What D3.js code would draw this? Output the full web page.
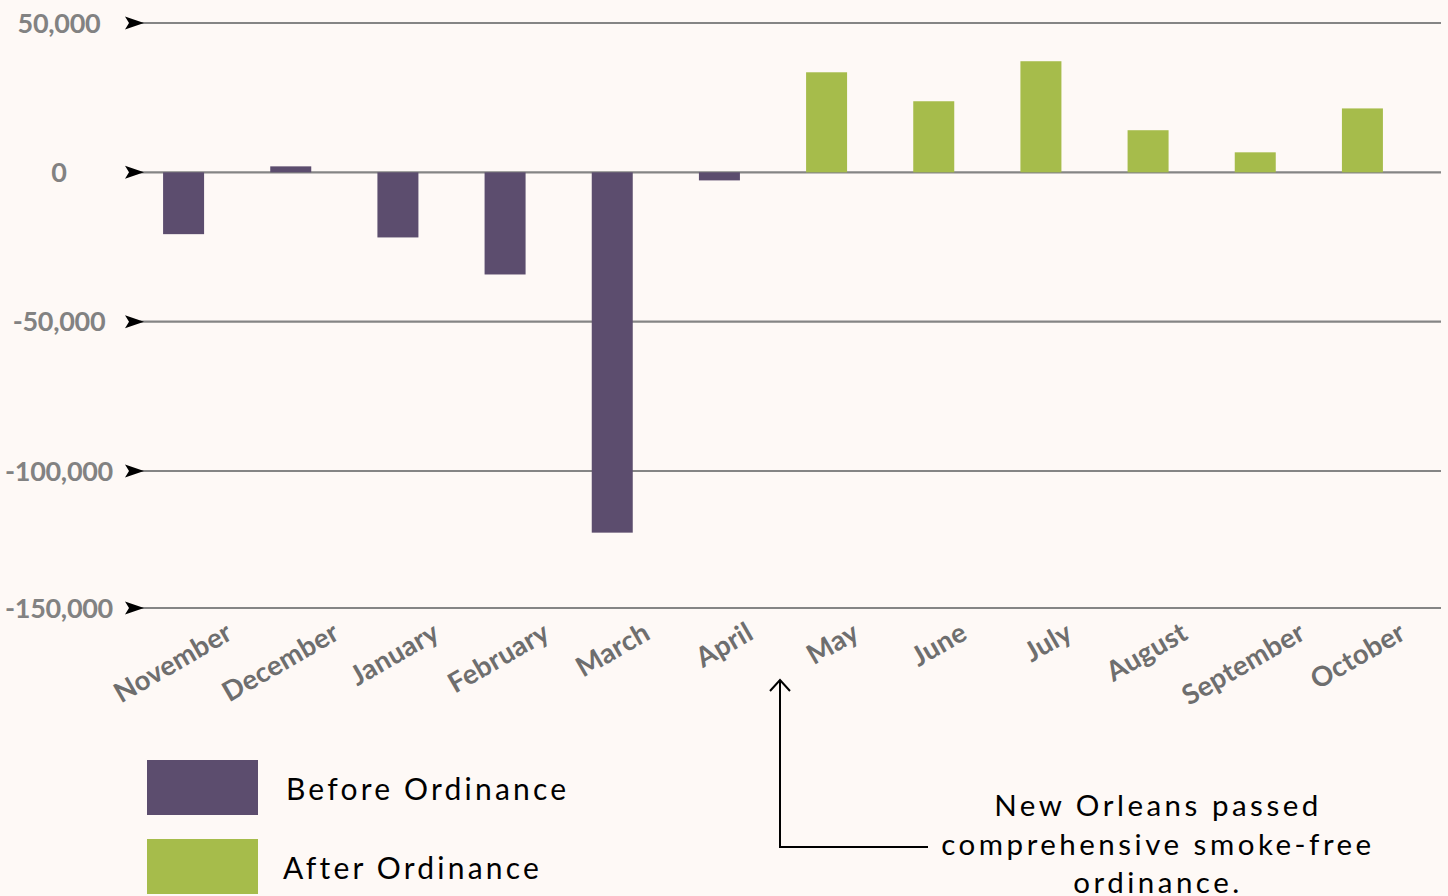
<!DOCTYPE html>
<html><head><meta charset="utf-8">
<script src="https://cdn.jsdelivr.net/npm/d3@7"></script>
<style>
html,body{margin:0;padding:0;background:#fef9f6;}
svg{display:block;}
</style></head>
<body>
<script>
const months = ["November","December","January","February","March","April","May","June","July","August","September","October"];
const values = [-20700, 2000, -21800, -34200, -122500, -2700, 33500, 23800, 37200, 14100, 6700, 21400];
const phase = ["Before","Before","Before","Before","Before","Before","After","After","After","After","After","After"];
const yTicks = [50000, 0, -50000, -100000, -150000];
const legendLabels = ["Before Ordinance","After Ordinance"];
const noteLines = ["New Orleans passed","comprehensive smoke-free","ordinance."];

const W = 1448, H = 896;
const colors = {Before:"#5c4d6e", After:"#a6bc4b"};
const fmt = d3.formatLocale({decimal:".",thousands:",",grouping:[3],currency:["$",""],minus:"-"}).format(",");
const svg = d3.select("body").append("svg").attr("width",W).attr("height",H);
svg.append("rect").attr("width",W).attr("height",H).attr("fill","#fef9f6");

const x = d3.scaleBand().domain(months).range([130,1416]);
const y = d3.scaleLinear().domain([-150000,-100000,50000]).range([608,471,23]);
const barW = 41;

// gridlines
const g = svg.append("g");
yTicks.forEach(t=>{
  g.append("line").attr("x1",140).attr("x2",1441).attr("y1",y(t)).attr("y2",y(t))
   .attr("stroke","#858585").attr("stroke-width",2.2);
  const yy=y(t);
  g.append("path").attr("d",`M125,${yy-6.5} L144,${yy} L125,${yy+6.5} L129,${yy} Z`).attr("fill","#000");
  g.append("text").attr("x",59).attr("y",yy+9.5).attr("text-anchor","middle")
   .attr("font-family","Lato").attr("font-weight",700).attr("font-size",27)
   .attr("fill","#828282").attr("letter-spacing",-0.3).text(fmt(t));
});

// bars
svg.append("g").selectAll("rect").data(months).join("rect")
  .attr("x",(d)=>x(d)+x.bandwidth()/2-barW/2)
  .attr("width",barW)
  .attr("y",(d,i)=>y(Math.max(0,values[i])))
  .attr("height",(d,i)=>Math.abs(y(values[i])-y(0)))
  .attr("fill",(d,i)=>colors[phase[i]]);

// x labels: rotated, top of rotated box aligned under the axis
const ang = 30, rad = ang*Math.PI/180, fh = 20;
svg.append("g").selectAll("text").data(months).join("text")
  .attr("text-anchor","middle")
  .attr("dy","0.35em")
  .attr("font-family","Lato").attr("font-weight",700).attr("font-size",27.5)
  .attr("letter-spacing",0.3)
  .attr("fill","#6e6e6e").text(d=>d)
  .each(function(d){
    const L = this.getComputedTextLength();
    const hh = (L*Math.sin(rad) + fh*Math.cos(rad))/2;
    const dx = 18 - 0.22*L;
    d3.select(this).attr("transform",`translate(${x(d)+x.bandwidth()/2+dx},${621+hh}) rotate(${-ang})`);
  });

// legend
legendLabels.forEach((l,i)=>{
  const ly = 760 + i*79;
  svg.append("rect").attr("x",147).attr("y",ly).attr("width",111).attr("height",55).attr("fill",colors[phase[i===0?0:6]]);
  svg.append("text").attr("x",i===0?286:283).attr("y",ly+40).attr("font-family","Lato").attr("font-size",30)
    .attr("letter-spacing",3.2).attr("fill","#000").text(l);
});

// annotation arrow
svg.append("path").attr("d","M928,847 L780,847 L780,680").attr("fill","none").attr("stroke","#000").attr("stroke-width",2);
svg.append("path").attr("d","M770,691 L780,680 L790,691").attr("fill","none").attr("stroke","#000").attr("stroke-width",2);
noteLines.forEach((t,i)=>{
  svg.append("text").attr("x",1158).attr("y",[816,855,893][i]).attr("text-anchor","middle")
   .attr("font-family","Lato").attr("font-size",29.5).attr("letter-spacing",3.5).attr("fill","#000").text(t);
});
</script>
</body></html>
